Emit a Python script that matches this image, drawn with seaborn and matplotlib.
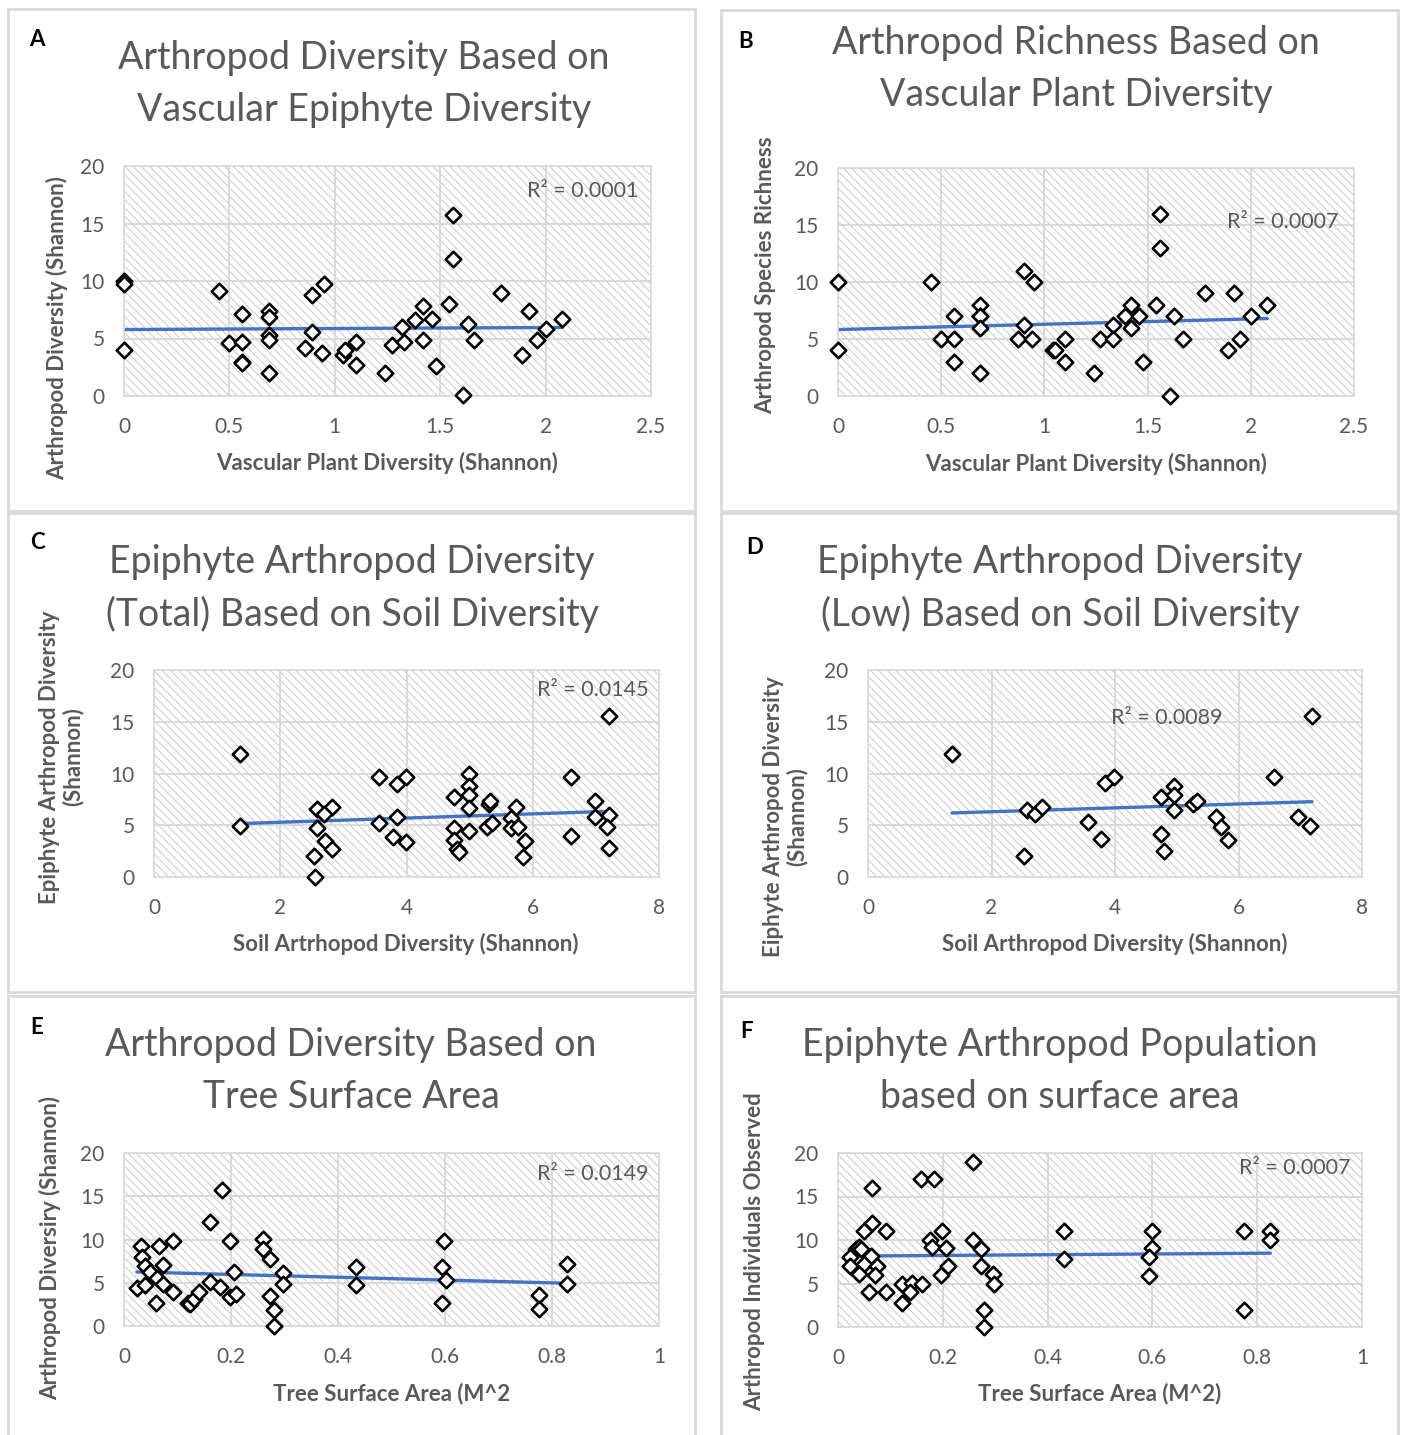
import matplotlib.pyplot as plt
import seaborn as sns
import pandas as pd
from matplotlib.patches import Rectangle
from matplotlib.ticker import FuncFormatter

# Panel A data: arthropod diversity vs vascular epiphyte diversity
a_x = [0, 0, 0, 0.45, 0.5, 0.56, 0.56, 0.56, 0.56, 0.69, 0.69, 0.69, 0.69, 0.69, 0.86, 0.89, 0.95, 0.89, 0.94,
       1.04, 1.05, 1.1, 1.1, 1.24, 1.27, 1.32, 1.33, 1.38, 1.42, 1.42, 1.46, 1.48, 1.54, 1.56, 1.56, 1.61, 1.63,
       1.66, 1.79, 1.89, 1.92, 1.96, 2.0, 2.08]
a_y = [10, 9.7, 4.0, 9.1, 4.6, 7.1, 4.7, 3.0, 2.9, 7.4, 6.9, 5.3, 4.9, 2.0, 4.2, 8.8, 9.7, 5.6, 3.7,
       3.6, 4.0, 4.7, 2.7, 2.0, 4.4, 6.0, 4.7, 6.6, 7.8, 4.9, 6.7, 2.6, 8.0, 15.7, 11.9, 0.1, 6.3,
       4.9, 9.0, 3.6, 7.4, 4.9, 5.8, 6.7]

# Panel B data: arthropod richness vs vascular plant diversity
b_x = [0, 0, 0.45, 0.5, 0.56, 0.56, 0.56, 0.69, 0.69, 0.69, 0.69, 0.69, 0.87, 0.9, 0.9, 0.95, 0.94, 1.04, 1.05,
       1.1, 1.1, 1.24, 1.27, 1.33, 1.33, 1.39, 1.42, 1.42, 1.46, 1.48, 1.54, 1.56, 1.56, 1.61, 1.63, 1.67,
       1.78, 1.89, 1.92, 1.95, 2.0, 2.08]
b_y = [10, 4, 10, 5, 7, 5, 3, 8, 7, 7, 6, 2, 5, 11, 6.2, 10, 5, 4, 4,
       5, 3, 2, 5, 6.2, 5, 7, 8, 6, 7, 3, 8, 16, 13, 0, 7, 5,
       9, 4, 9, 5, 7, 8]

# Panel C data: epiphyte arthropod diversity (total) vs soil diversity
c_x = [1.37, 1.37, 2.58, 2.82, 2.7, 2.58, 2.71, 2.82, 2.54, 2.55, 3.57, 3.85, 3.99, 3.57, 3.85, 3.78, 3.99,
       4.99, 4.99, 4.99, 4.76, 4.99, 5.31, 5.33, 5.27, 5.35, 4.99, 4.76, 4.76, 4.8, 4.83, 5.74, 5.66, 5.66,
       5.77, 5.87, 5.84, 6.61, 6.61, 6.99, 6.98, 7.21, 7.18, 7.21, 7.21]
c_y = [11.9, 4.9, 6.6, 6.8, 6.1, 4.7, 3.5, 2.7, 2.0, 0, 9.7, 9.0, 9.7, 5.2, 5.8, 3.9, 3.4,
       10, 8.8, 7.9, 7.7, 6.7, 7.1, 7.3, 4.8, 5.2, 4.4, 4.7, 3.6, 2.7, 2.4, 6.8, 5.7, 4.7,
       4.8, 3.5, 1.9, 9.7, 4.0, 7.3, 5.8, 6.0, 4.8, 2.8, 15.6]

# Panel D data: epiphyte arthropod diversity (low) vs soil diversity
d_x = [1.36, 2.57, 2.71, 2.82, 2.53, 3.57, 3.77, 3.84, 3.99, 4.74, 4.96, 4.96, 4.96, 4.74, 4.8, 5.26, 5.32,
       5.63, 5.72, 5.83, 6.58, 6.97, 7.15, 7.19]
d_y = [11.9, 6.5, 6.1, 6.8, 2.0, 5.3, 3.7, 9.1, 9.7, 7.7, 8.8, 7.9, 6.5, 4.2, 2.5, 7.1, 7.3,
       5.8, 4.8, 3.6, 9.7, 5.8, 4.9, 15.6]

# Panel E data: arthropod diversity vs tree surface area
e_x = [0.024, 0.031, 0.034, 0.039, 0.040, 0.049, 0.059, 0.066, 0.062, 0.072, 0.072, 0.091, 0.091, 0.12, 0.124,
       0.13, 0.14, 0.16, 0.16, 0.18, 0.183, 0.198, 0.198, 0.21, 0.206, 0.259, 0.259, 0.272, 0.272, 0.28,
       0.28, 0.297, 0.297, 0.434, 0.434, 0.598, 0.595, 0.601, 0.595, 0.776, 0.776, 0.828, 0.828]
e_y = [4.4, 9.2, 8.0, 6.9, 4.7, 6.2, 2.7, 9.2, 5.6, 7.0, 4.8, 9.8, 3.9, 2.7, 2.5,
       3.1, 3.9, 12.0, 5.1, 4.5, 15.7, 9.8, 3.3, 3.7, 6.2, 10.1, 8.9, 7.8, 3.5, 1.9,
       0, 6.1, 4.8, 6.8, 4.7, 9.8, 6.8, 5.3, 2.7, 3.6, 2.0, 7.2, 4.8]

# Panel F data: arthropod individuals vs surface area
f_x = [0.258, 0.065, 0.159, 0.183, 0.065, 0.05, 0.091, 0.198, 0.176, 0.180, 0.207, 0.035, 0.04, 0.043, 0.063,
       0.023, 0.023, 0.05, 0.074, 0.04, 0.07, 0.06, 0.091, 0.123, 0.142, 0.161, 0.123, 0.138, 0.196, 0.21,
       0.258, 0.272, 0.272, 0.295, 0.297, 0.278, 0.278, 0.431, 0.431, 0.6, 0.6, 0.593, 0.593, 0.774, 0.774,
       0.825, 0.825]
f_y = [19, 16, 17, 17, 12, 11, 11, 11, 10, 9.2, 9.1, 9, 9.2, 9, 8.2,
       8, 7, 7.2, 7, 6.1, 6, 4, 4, 5, 5.1, 5, 2.8, 4, 6, 7,
       10, 9, 7, 6.1, 4.9, 2, 0, 11, 7.8, 11, 9.1, 8, 5.9, 11, 1.9,
       11, 10]

y_ticks = [0, 5, 10, 15, 20]
shannon_ticks = [0, 0.5, 1, 1.5, 2, 2.5]
soil_ticks = [0, 2, 4, 6, 8]
area_ticks = [0, 0.2, 0.4, 0.6, 0.8, 1]

sns.set_style('white')
plt.rcParams['font.family'] = ['Lato', 'DejaVu Sans']
plt.rcParams['hatch.linewidth'] = 0.7
plt.rcParams['hatch.color'] = '#c9c9c9'

W, H = 1401, 1435
GRAY = '#595959'
LINE = '#d9d9d9'
fig = plt.figure(figsize=(W / 100, H / 100), dpi=100)


def fx(x):
    return x / W


def fy(y):
    return 1 - y / H


def panel(box, rect, x, y, xticks, letter, letter_pos, title, title_pos, ylabel, ylabel_pos,
          xlabel, xlabel_pos, r2, r2_pos):
    # outer panel frame
    l, t, r, b = box
    fig.patches.append(Rectangle((fx(l), fy(b)), fx(r - l), (b - t) / H, transform=fig.transFigure,
                                 fill=False, edgecolor=LINE, linewidth=2, zorder=0))
    l, t, r, b = rect
    ax = fig.add_axes([fx(l), fy(b), fx(r - l), (b - t) / H])
    ax.add_patch(Rectangle((0, 0), 1, 1, transform=ax.transAxes, facecolor='white', edgecolor='#c9c9c9',
                           hatch='\\\\\\\\', linewidth=0, zorder=0))
    df = pd.DataFrame({'x': x, 'y': y})
    sns.scatterplot(data=df, x='x', y='y', ax=ax, marker='D', s=62, facecolor='white',
                    edgecolor='black', linewidth=1.9, zorder=3, clip_on=False)
    sns.regplot(data=df, x='x', y='y', ax=ax, scatter=False, ci=None, truncate=True,
                line_kws={'color': '#4472c4', 'linewidth': 2.4, 'zorder': 2})
    ax.set_xlim(xticks[0], xticks[-1])
    ax.set_ylim(0, 20)
    ax.set_xticks(xticks)
    ax.set_yticks(y_ticks)
    ax.xaxis.set_major_formatter(FuncFormatter(lambda v, p: '{:g}'.format(v)))
    ax.set_axisbelow(True)
    ax.grid(True, color=LINE, linewidth=1.4)
    for s in ax.spines.values():
        s.set_color(LINE)
        s.set_linewidth(1.2)
    ax.tick_params(length=0, labelsize=15, labelcolor=GRAY)
    ax.tick_params(axis='x', pad=15)
    ax.tick_params(axis='y', pad=14)
    ax.set_xlabel('')
    ax.set_ylabel('')

    fig.text(fx(letter_pos[0]), fy(letter_pos[1]), letter, fontsize=16, fontweight='bold',
             color='black', ha='center', va='center')
    # two title lines, placed one by one
    for i, line in enumerate(title.split('\n')):
        fig.text(fx(title_pos[0]), fy(title_pos[1] + 52 * i), line, fontsize=27, color=GRAY,
                 ha='center', va='center')
    fig.text(fx(ylabel_pos[0]), fy(ylabel_pos[1]), ylabel, fontsize=16, fontweight='bold', color=GRAY,
             rotation=90, ha='center', va='center', linespacing=1.1)
    fig.text(fx(xlabel_pos[0]), fy(xlabel_pos[1]), xlabel, fontsize=16, fontweight='bold', color=GRAY,
             ha='center', va='center')
    fig.text(fx(r2_pos[0]), fy(r2_pos[1]), r2, fontsize=15.5, color=GRAY, ha='center', va='center')
    return ax


panel((8, 9, 695, 511), (124, 166, 651, 396), a_x, a_y, shannon_ticks, 'A', (37, 40),
      'Arthropod Diversity Based on\nVascular Epiphyte Diversity', (364, 58),
      'Arthropod Diversity (Shannon)', (57, 328),
      'Vascular Plant Diversity (Shannon)', (387, 463), 'R² = 0.0001', (583, 191))

panel((721, 10, 1398, 511), (838, 168, 1354, 396), b_x, b_y, shannon_ticks, 'B', (746, 42),
      'Arthropod Richness Based on\nVascular Plant Diversity', (1076, 43),
      'Arthropod Species Richness', (766, 275),
      'Vascular Plant Diversity (Shannon)', (1096, 464), 'R² = 0.0007', (1283, 222))

panel((8, 513, 695, 992), (154, 670, 659, 877), c_x, c_y, soil_ticks, 'C', (37, 542),
      'Epiphyte Arthropod Diversity\n(Total) Based on Soil Diversity', (352, 562),
      'Epiphyte Arthropod Diversity\n(Shannon)', (61, 757),
      'Soil Artrhopod Diversity (Shannon)', (406, 944), 'R² = 0.0145', (593, 690))

panel((721, 513, 1398, 992), (868, 670, 1362, 877), d_x, d_y, soil_ticks, 'D', (755, 547),
      'Epiphyte Arthropod Diversity\n(Low) Based on Soil Diversity', (1060, 562),
      'Eiphyte Arthropod Diversity\n(Shannon)', (785, 817),
      'Soil Arthropod Diversity (Shannon)', (1115, 944), 'R² = 0.0089', (1167, 718))

panel((8, 996, 695, 1440), (124, 1153, 659, 1326), e_x, e_y, area_ticks, 'E', (37, 1027),
      'Arthropod Diversity Based on\nTree Surface Area', (351, 1045),
      'Arthropod Diversiry (Shannon)', (50, 1248),
      'Tree Surface Area (M^2', (392, 1394), 'R² = 0.0149', (593, 1174))

panel((721, 996, 1398, 1440), (838, 1153, 1362, 1327), f_x, f_y, area_ticks, 'F', (747, 1032),
      'Epiphyte Arthropod Population\nbased on surface area', (1060, 1045),
      'Arthropod Individuals Observed', (755, 1252),
      'Tree Surface Area (M^2)', (1100, 1394), 'R² = 0.0007', (1295, 1168))

fig.savefig('out.png', dpi=100)
